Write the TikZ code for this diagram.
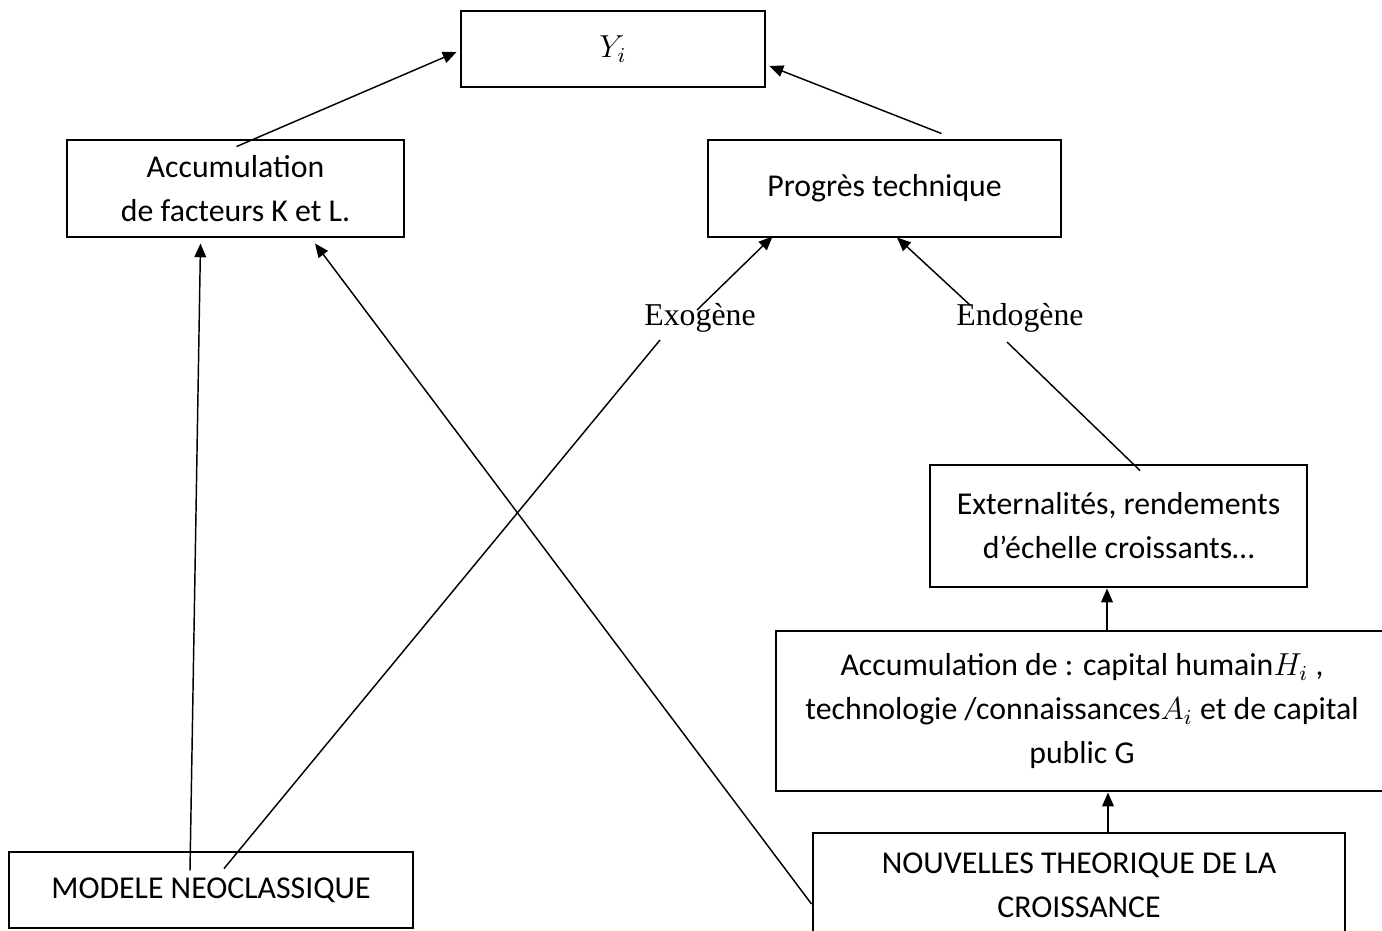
\documentclass[tikz,border=0pt]{standalone}
\usepackage{fontspec}
\setmainfont{Carlito}
\newfontfamily\labelfont{Liberation Serif}
\usetikzlibrary{arrows.meta,calc}
\newcommand{\pxu}{0.3774pt}
\tikzset{
	box/.style = {draw, line width=1.1pt, rectangle, align=center, inner sep=0pt,
		font=\fontsize{12}{16.6}\selectfont},
	boxsize/.style 2 args = {minimum width=#1*\pxu, minimum height=#2*\pxu},
	link/.style = {line width=0.55pt, -{Triangle[length=5.2pt,width=4.4pt]}},
	plain/.style = {line width=0.55pt},
	tag/.style = {inner sep=0pt, font=\labelfont\fontsize{12}{14}\selectfont}
}
\begin{document}
\begin{tikzpicture}[x=\pxu, y=-\pxu]
					\clip (0,0) rectangle (1382,930);
					% Draw the boxes
					\node [box, boxsize={304}{76}] (yi) at (613,49) {$Y_i$};
					\node [box, boxsize={337}{97}] (acck) at (235.5,188.5)
						{Accumulation\\ de facteurs K et L.};
					\node [box, boxsize={353}{97}] (prog) at (884.5,188.5)
						{Progrès technique};
					\node [box, boxsize={377}{122}] (ext) at (1118.5,526)
						{Externalités, rendements\\ d’échelle croissants…};
					\node [box, boxsize={612}{160}] (acch) at (1082,711)
						{Accumulation de : capital humain$H_i$ ,\\ technologie /connaissances$A_i$ et de capital\\ public G};
					\node [box, boxsize={404}{76}] (neo) at (211,890)
						{MODELE NEOCLASSIQUE};
					\node [box, boxsize={532}{104}] (nouv) at (1079,885)
						{NOUVELLES THEORIQUE DE LA\\ CROISSANCE};
					% Draw the two labels
					\node [tag] (exo) at (700,318) {Exogène};
					\node [tag] (endo) at (1020,318) {Endogène};

					% Draw arrows to Y
					\draw [link] ($(acck.north)+(1,8)$) -- ($(yi.west)+(-3,3)$);
					\draw [link] ($(prog.north)+(57,-5)$) -- ($(yi.east)+(3,17)$);
					% Draw the neoclassical arrows
					\draw [link] ($(neo.north)+(-21,20)$) -- ($(acck.south)+(-35,5)$);
					\draw [plain] ($(neo.north)+(13,18)$) -- ($(exo)+(-40,22)$);
					\draw [link] ($(exo)+(-3,-8)$) -- ($(prog.south)+(-112,-2)$);
					% Draw the new theory arrows
					\draw [link] ($(nouv.west)+(0,19)$) -- ($(acck.south)+(79.5,5)$);
					\draw [link] ($(nouv.north)+(29,0)$) -- ($(acch.south)+(26,0)$);
					\draw [link] ($(acch.north)+(25,0)$) -- ($(ext.south)+(-11.5,0)$);
					\draw [plain] ($(ext.north)+(21.5,7)$) -- ($(endo)+(-13,24)$);
					\draw [link] ($(endo)+(-50,-13)$) -- ($(prog.south)+(12.5,-1)$);
\end{tikzpicture}
\end{document}
